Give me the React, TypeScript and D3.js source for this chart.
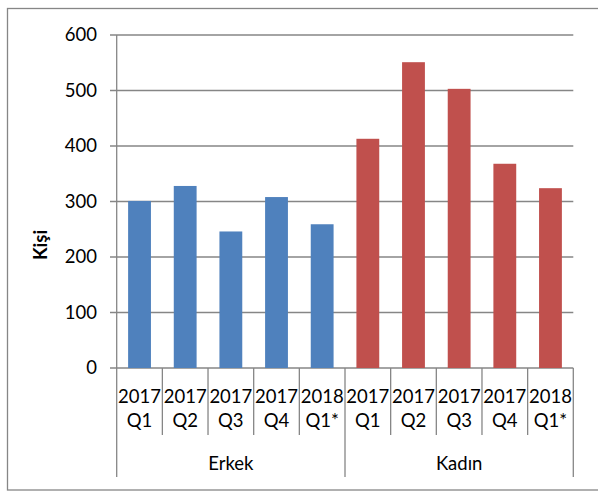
import React from "react";
import * as d3 from "d3";

const groups = ["Erkek", "Kadın"];
const periods = ["2017 Q1", "2017 Q2", "2017 Q3", "2017 Q4", "2018 Q1*"];
const erkekValues = [301, 328, 246, 308, 259];
const kadinValues = [413, 551, 503, 368, 324];
const yTicks = [0, 100, 200, 300, 400, 500, 600];
const yTitle = "Kişi";

const colors = ["#4F81BD", "#C0504D"];
const FONT = "Lato, 'Open Sans', sans-serif";
const GRID = "#868686";

export default function App() {
  const W = 598, H = 491;
  const left = 116.7, right = 573.3, top = 35, bottom = 368;
  const seriesValues = [erkekValues, kadinValues];
  const items = groups.flatMap((g, gi) =>
    periods.map((p, pi) => ({ key: `${g}|${p}`, group: g, gi, period: p, value: seriesValues[gi][pi] }))
  );
  const x = d3.scaleBand<string>().domain(items.map(d => d.key)).range([left, right]).paddingInner(0.5).paddingOuter(0.25);
  const step = x.step();
  const y = d3.scaleLinear().domain([0, 600]).range([bottom, top]);
  const fs = 18.5;

  return (
    <svg width={W} height={H} style={{ position: "absolute", left: 0, top: 0, background: "#fff" }}>
      <rect x={7.5} y={8.5} width={600} height={481.5} fill="none" stroke={GRID} strokeWidth={1.3} />
      {yTicks.map(t => (
        <g key={t}>
          <line x1={110} x2={right} y1={y(t)} y2={y(t)} stroke={GRID} strokeWidth={1.3} />
          <text x={97} y={y(t)} dy="0.35em" textAnchor="end" fontFamily={FONT} fontSize={fs} fill="#000">{t}</text>
        </g>
      ))}
      <line x1={left} x2={left} y1={top} y2={bottom} stroke={GRID} strokeWidth={1.3} />
      {items.map(d => (
        <rect key={d.key} x={x(d.key)} y={y(d.value)} width={x.bandwidth()} height={y(0) - y(d.value)} fill={colors[d.gi]} />
      ))}
      {d3.range(items.length + 1).map(i => {
        const xx = left + i * step;
        const isGroup = i % periods.length === 0;
        return <line key={i} x1={xx} x2={xx} y1={bottom} y2={isGroup ? 477 : 435} stroke={GRID} strokeWidth={1.3} />;
      })}
      {items.map(d => {
        const cx = (x(d.key) as number) + x.bandwidth() / 2;
        const [yr, q] = d.period.split(" ");
        return (
          <g key={d.key + "l"}>
            <text x={cx} y={403} textAnchor="middle" fontFamily={FONT} fontSize={fs} fill="#000">{yr}</text>
            <text x={cx} y={427} textAnchor="middle" fontFamily={FONT} fontSize={fs} fill="#000">{q}</text>
          </g>
        );
      })}
      {groups.map((g, gi) => {
        const cx = left + (gi + 0.5) * periods.length * step;
        return <text key={g} x={cx} y={470} textAnchor="middle" fontFamily={FONT} fontSize={fs} fill="#000">{g}</text>;
      })}
      <text transform={`translate(47,245) rotate(-90)`} textAnchor="middle" fontFamily={FONT} fontSize={fs} fontWeight="bold" fill="#000">{yTitle}</text>
    </svg>
  );
}
